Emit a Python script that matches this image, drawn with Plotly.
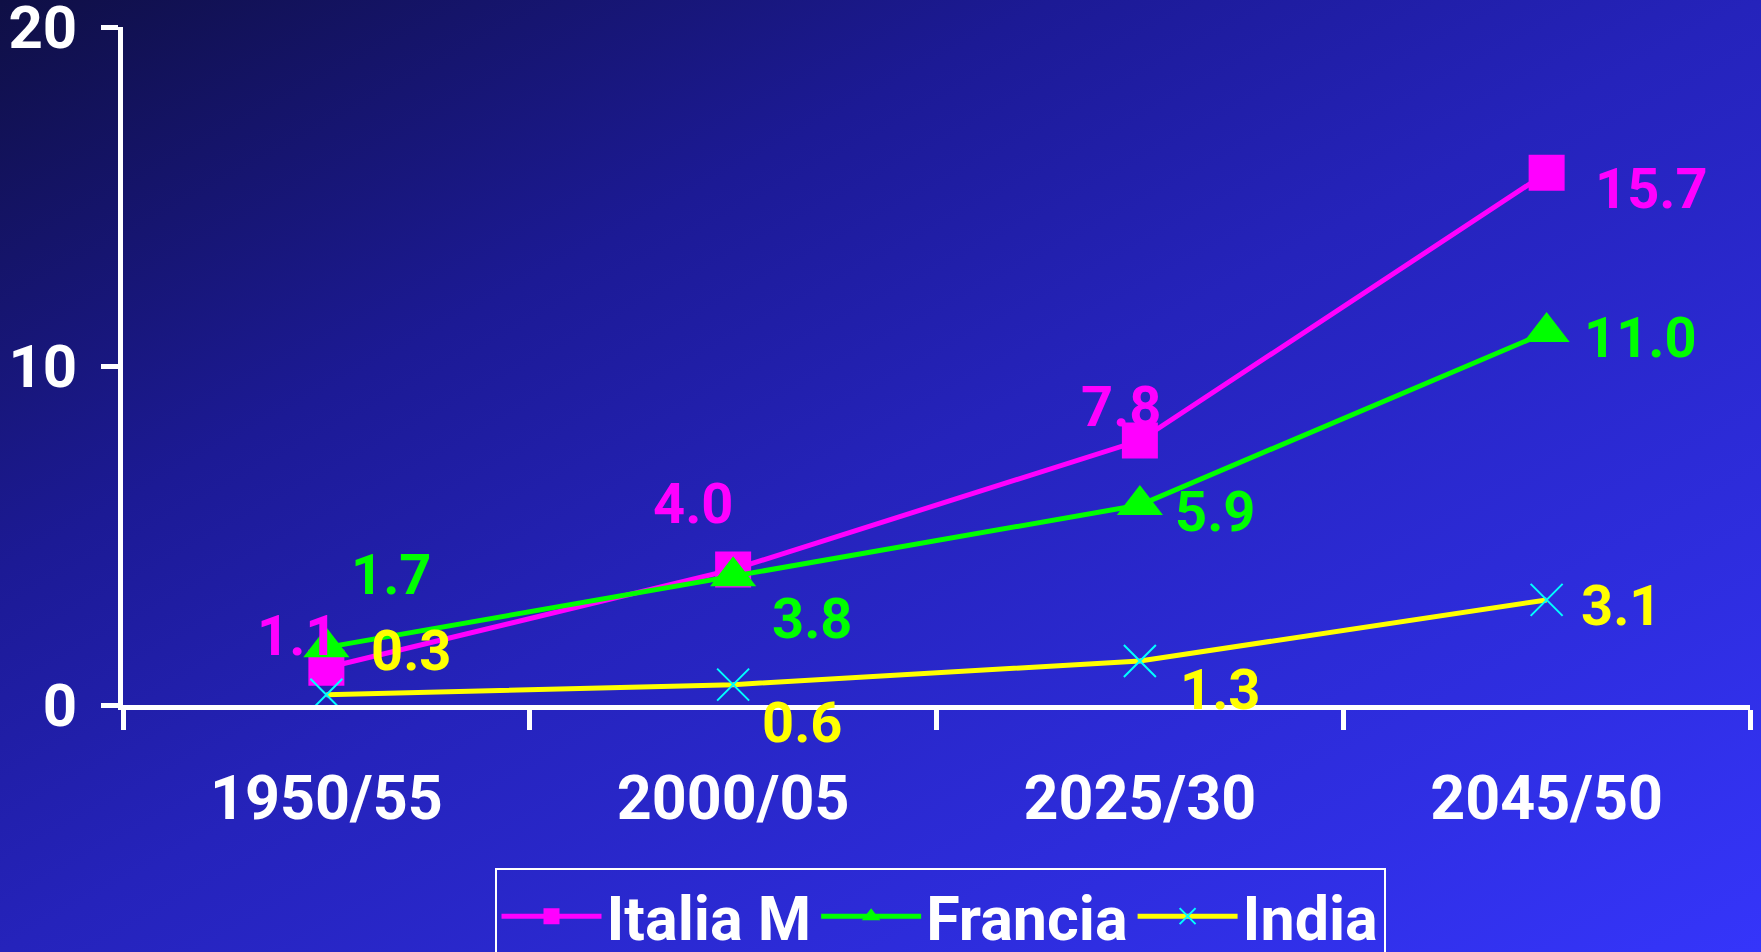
import base64
import plotly.graph_objects as go

periods = ['1950/55', '2000/05', '2025/30', '2045/50']
italia = [1.1, 4.0, 7.8, 15.7]
francia = [1.7, 3.8, 5.9, 11.0]
india = [0.3, 0.6, 1.3, 3.1]

W, H = 1761, 952
ML, MR, MT, MB = 123, 11, 27, 247
FONT = "Roboto"

# label offsets (pixels, screen coords) per point
off_italia = [(-29, -32), (-40, -65), (-18, -34), (105, 16)]
off_francia = [(65, -72), (79, 43), (76, 7), (94, 6)]
off_india = [(85, -44), (69, 38), (81, 29), (75, 6)]

# diagonal gradient background as an svg image
svg = f'''<svg xmlns="http://www.w3.org/2000/svg" width="{W}" height="{H}" preserveAspectRatio="none">
<defs><linearGradient id="g" x1="0" y1="0" x2="1" y2="1">
<stop offset="0" stop-color="#0f0f45"/>
<stop offset="0.3" stop-color="#1c1a95"/>
<stop offset="0.5" stop-color="#2523bb"/>
<stop offset="1" stop-color="#3535fa"/>
</linearGradient></defs>
<rect width="{W}" height="{H}" fill="url(#g)"/></svg>'''
bg_src = "data:image/svg+xml;base64," + base64.b64encode(svg.encode()).decode()

pw = W - ML - MR
ph = H - MT - MB

fig = go.Figure()
fig.add_trace(go.Scatter(x=periods, y=italia, name='Italia M', mode='lines+markers',
                         line=dict(color='#ff00ff', width=5),
                         marker=dict(symbol='square', size=36, color='#ff00ff')))
fig.add_trace(go.Scatter(x=periods, y=francia, name='Francia', mode='lines+markers',
                         line=dict(color='#00ff00', width=5),
                         marker=dict(symbol='triangle-up', size=40, color='#00ff00')))
fig.add_trace(go.Scatter(x=periods, y=india, name='India', mode='lines+markers',
                         line=dict(color='#ffff00', width=5),
                         marker=dict(symbol='x-thin-open', size=32, color='#00ffff',
                                     line=dict(color='#00ffff', width=2))))

annots = []
for vals, offs, col in [(italia, off_italia, '#ff00ff'),
                        (francia, off_francia, '#00ff00'),
                        (india, off_india, '#ffff00')]:
    for p, v, (dx, dy) in zip(periods, vals, offs):
        annots.append(dict(x=p, y=v, text=f"{v:.1f}", showarrow=False,
                           xshift=dx, yshift=-dy,
                           font=dict(family=FONT, size=56, color=col, weight='bold')))

fig.update_layout(
    width=W, height=H,
    margin=dict(l=ML, r=MR, t=MT, b=MB, autoexpand=False),
    paper_bgcolor='#2422c0', plot_bgcolor='rgba(0,0,0,0)',
    font=dict(family=FONT, color='white'),
    annotations=annots,
    images=[dict(source=bg_src, xref='paper', yref='paper',
                 x=-ML / pw, y=1 + MT / ph, sizex=W / pw, sizey=H / ph,
                 xanchor='left', yanchor='top', sizing='stretch', layer='below')],
    showlegend=True,
    legend=dict(orientation='h', xref='container', x=940 / W, xanchor='center',
                yref='container', y=(H - 868) / H, yanchor='top', itemwidth=100,
                bgcolor='rgba(0,0,0,0)', bordercolor='white', borderwidth=2,
                font=dict(family=FONT, size=61, color='white', weight='bold')),
)
fig.update_xaxes(type='category', range=[-0.5, 3.5], tickson='boundaries',
                 showgrid=False, zeroline=False, automargin=False,
                 showline=True, linecolor='white', linewidth=4.5,
                 ticks='outside', ticklen=20, tickwidth=4.5, tickcolor='white',
                 ticklabelstandoff=36,
                 tickfont=dict(family=FONT, size=61, color='white', weight='bold'))
fig.update_yaxes(range=[0, 20], tickvals=[0, 10, 20], showgrid=False, zeroline=False,
                 automargin=False,
                 showline=True, linecolor='white', linewidth=4.5,
                 ticks='outside', ticklen=17, tickwidth=4.5, tickcolor='white',
                 ticklabelstandoff=12, ticklabeloverflow='allow',
                 tickfont=dict(family=FONT, size=60, color='white', weight='bold'))

fig.write_html("out.html", config={'displayModeBar': False},
               post_script="document.body.style.margin='0';")
